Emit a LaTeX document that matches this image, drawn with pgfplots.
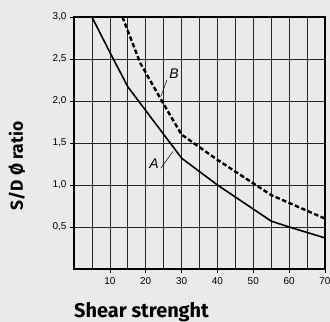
\documentclass[border=0pt]{standalone}
\usepackage{pgfplots}
\pgfplotsset{compat=1.18}
\usepackage{fontspec}
\setmainfont{Liberation Sans}
\newfontfamily\labfont{Fira Sans}
\definecolor{bg}{HTML}{EAEAEA}
\begin{document}
\begin{tikzpicture}
\fill[bg] (-74bp,-53bp) rectangle (256bp,269bp);
\begin{axis}[
  scale only axis, width=251bp, height=252bp,
  xmin=0, xmax=70, ymin=0, ymax=3,
  xtick={10,20,...,70}, minor xtick={5,15,...,65},
  ytick={0.5,1,...,3},
  grid=both,
  major grid style={black!85, line width=0.7pt},
  minor grid style={black!85, line width=0.7pt},
  axis line style={black, line width=1.8pt},
  tick align=outside, major tick length=4bp, minor tick length=0pt,
  tick style={black, line width=0.7pt},
  xtick pos=bottom, ytick pos=left,
  /pgf/number format/assume math mode=true,
  /pgf/number format/use comma, /pgf/number format/fixed, /pgf/number format/fixed zerofill, /pgf/number format/precision=1,
  xticklabel style={/pgf/number format/precision=0, /pgf/number format/fixed zerofill=false, font=\fontsize{10}{12}\selectfont, yshift=-1bp},
  yticklabel style={font=\fontsize{10}{12}\selectfont},
  axis background/.style={fill=bg},
  clip=false,
]
\addplot[black, line width=1.6pt] coordinates {(5,3.0) (10,2.58) (15,2.17) (30,1.32) (40,1.0) (55,0.57) (60,0.5) (70,0.37)};
\addplot[black, line width=2.4pt, dash pattern=on 4.5bp off 2.5bp] coordinates {(13.5,3.0) (18.5,2.45) (24.5,2.0) (30,1.6) (40,1.3) (55,0.88) (70,0.6)};
\draw[black, line width=0.5pt] (axis cs:24.3,2.06) -- (axis cs:25.9,2.25);
\node[font=\fontsize{14}{16}\selectfont\itshape] at (axis cs:27.9,2.33) {B};
\draw[black, line width=0.5pt] (axis cs:24.2,1.2) -- (axis cs:27.6,1.40);
\node[font=\fontsize{14}{16}\selectfont\itshape] at (axis cs:22.3,1.256) {A};
\end{axis}
\node[anchor=base west, font=\labfont\bfseries\fontsize{20}{22}\selectfont, inner sep=0pt] at (0bp,-48bp) {Shear strenght};
\node[anchor=base, rotate=90, font=\labfont\bfseries\fontsize{17.5}{20}\selectfont, inner sep=0pt] at (-51bp,103bp) {S/D Ø ratio};
\pgfresetboundingbox
\useasboundingbox (-74bp,-53bp) rectangle (256bp,269bp);
\end{tikzpicture}
\end{document}
